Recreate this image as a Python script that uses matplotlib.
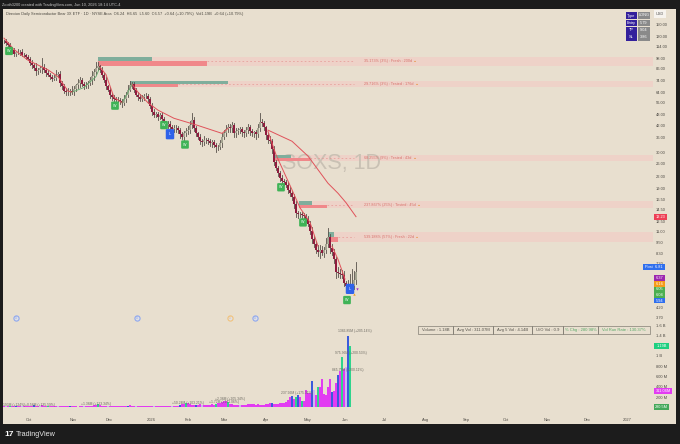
import matplotlib
matplotlib.use("Agg")
import matplotlib.pyplot as plt
from matplotlib.patches import Rectangle

plt.rcParams['font.family'] = ['Liberation Sans', 'DejaVu Sans']

# daily closes, one per bar
closes = [122, 119, 116, 111, 109, 104, 106, 106, 107, 103, 102, 100, 98, 93, 90, 87, 84, 85, 87, 88,
          85, 82, 80, 78, 76, 77, 80, 81, 72, 69, 65, 64, 64, 65, 64, 67, 70, 72, 75, 71,
          69, 70, 72, 75, 79, 83, 87, 89, 85, 80, 75, 69, 66, 62, 60, 59, 58, 58, 57, 56,
          59, 62, 66, 70, 71, 66, 62, 60, 59, 60, 61, 61, 59, 54, 50, 48, 48.5, 47, 48, 45.5,
          43, 42, 43, 41, 40, 40.5, 40.5, 39.6, 37.5, 36.5, 38, 39, 39.6, 42, 45, 40.5, 38, 36.5, 34.5, 34,
          35, 35, 34.5, 33.5, 34, 33, 32, 32, 33.5, 36.5, 38, 40, 41, 40.5, 42, 38, 39, 39.6, 40, 38.5,
          38, 39.6, 41, 39, 38, 38.5, 37.5, 40.5, 44, 43.5, 41, 37, 35, 34.5, 31, 26.5, 24.5, 23, 21.5, 20.8,
          20.4, 19.8, 18.6, 17.8, 17, 15.6, 13.8, 13.6, 13.6, 13.5, 13.3, 12.8, 12.1, 11, 10, 9.4, 8.7, 8.5, 8.7, 8.4,
          8.7, 9.3, 10.2, 8.9, 8.5, 7.7, 6.6, 6.45, 6.4, 6.3, 5.7, 5.5, 5.4, 5.6, 5.5, 5.93, 6.57]
# wick lengths in percent of the candle body ends
wick_up = [2, 3, 2, 3, 2, 3, 2, 4, 2, 3, 2, 2, 3, 2, 3, 3, 6, 2, 3, 12, 4, 2, 3, 2, 2, 3, 6, 2, 3, 2,
           3, 4, 5, 3, 6, 4, 2, 5, 3, 2, 3, 4, 3, 4, 6, 4, 8, 6, 2, 3, 2, 3, 2, 3, 2, 3, 2, 4, 2, 3,
           5, 3, 6, 5, 3, 2, 2, 3, 4, 3, 3, 4, 3, 2, 3, 4, 3, 3, 2, 4, 3, 2, 4, 4, 3, 4, 5, 3, 3, 3,
           3, 4, 5, 6, 10, 4, 3, 2, 3, 3, 5, 3, 3, 3, 3, 3, 2, 3, 4, 5, 4, 6, 5, 4, 4, 3, 4, 3, 3, 3,
           3, 4, 5, 3, 3, 2, 3, 6, 12, 3, 2, 2, 3, 5, 3, 4, 3, 3, 3, 4, 3, 3, 4, 3, 3, 4, 3, 3, 3, 3,
           3, 3, 4, 4, 5, 4, 3, 6, 6, 5, 4, 8, 12, 4, 5, 3, 3, 6, 6, 5, 5, 3, 8, 14, 22, 12, 14]
wick_dn = [2, 2, 3, 2, 3, 2, 3, 2, 3, 2, 2, 3, 2, 3, 3, 3, 5, 4, 3, 6, 3, 4, 2, 3, 3, 2, 3, 3, 4, 3,
           3, 3, 4, 3, 2, 4, 3, 3, 5, 3, 3, 2, 4, 3, 5, 6, 3, 2, 3, 3, 3, 3, 2, 4, 3, 3, 3, 3, 3, 5,
           3, 4, 3, 2, 3, 3, 2, 3, 3, 3, 3, 3, 5, 3, 4, 3, 3, 4, 3, 3, 4, 3, 3, 3, 4, 3, 4, 3, 4, 3,
           4, 3, 3, 4, 3, 3, 3, 3, 4, 5, 3, 4, 4, 3, 4, 3, 6, 4, 3, 4, 3, 3, 3, 4, 4, 4, 5, 3, 4, 4,
           4, 3, 3, 5, 3, 5, 6, 3, 3, 4, 3, 4, 4, 3, 4, 4, 3, 4, 3, 4, 3, 3, 4, 3, 4, 5, 4, 4, 3, 4,
           3, 4, 3, 3, 5, 4, 4, 5, 8, 3, 5, 4, 3, 6, 4, 4, 8, 5, 5, 4, 4, 5, 4, 5, 6, 4, 5]
# volume in millions, one per bar
volumes = [24, 30, 22, 20, 26, 32, 22, 20, 25, 30, 22, 28, 24, 34, 36, 40, 32, 28, 36, 42,
           30, 26, 24, 20, 22, 28, 24, 20, 26, 32, 28, 22, 24, 20, 26, 22, 20, 18, 24, 28,
           24, 20, 22, 30, 38, 44, 50, 60, 46, 36, 30, 26, 24, 22, 28, 34, 30, 26, 24, 22,
           26, 30, 36, 40, 32, 28, 24, 20, 22, 26, 30, 34, 28, 24, 28, 32, 26, 24, 30, 34,
           28, 26, 30, 36, 32, 28, 30, 34, 42, 60, 75, 90, 80, 70, 58, 50, 44, 52, 60, 56,
           48, 44, 50, 58, 66, 56, 70, 85, 95, 110, 135, 125, 100, 70, 60, 52, 46, 50, 56, 52,
           48, 56, 64, 70, 66, 60, 58, 62, 40, 45, 50, 60, 72, 78, 78, 74, 70, 72, 78, 82,
           90, 110, 140, 195, 228, 170, 195, 240, 195, 130, 130, 338, 286, 290, 520, 338, 240, 400, 400, 546,
           260, 240, 400, 546, 305, 320, 481, 630, 700, 990, 740, 793, 1387, 1190]
blue_bars = [6, 15, 33, 62, 88, 96, 134, 144, 147, 154, 164, 167, 172]
green_bars = [3, 22, 47, 91, 106, 112, 146, 149, 157, 169, 173]
lilac_bars = [1, 9, 18, 27, 40, 52, 66, 75, 84, 99, 118, 155, 171]

# indicator lines: bar number, price
fast_a = ([0, 5, 12, 22, 27, 32, 34], [127, 110, 96, 85, 78, 65, 64])
fast_b = ([48, 51, 55, 59], [88, 80, 60, 56])
fast_c = ([64, 67, 72, 77, 85, 97, 109, 112], [71, 64, 56, 51, 46, 42, 38, 40.5])
slow_d = ([132, 144, 152, 162, 167, 171, 176], [39.6, 34.4, 28.5, 20.2, 17.8, 15.8, 13.23])
fast_e = ([132, 136, 144, 148, 153, 157], [39, 29, 18.6, 14.8, 12.3, 9.1])
fast_f = ([164, 167, 170.5], [9.1, 7.7, 6.0])
green_a = ([34, 40, 46, 48], [64, 68, 78, 88])
green_b = ([59, 62, 64], [56, 64, 71])

# supply zones
zone_start = [47, 63, 134.5, 147.5, 162]
zone_green_end = [74, 112, 143.5, 154, 165]
zone_red_end = [101.5, 87, 153, 161.5, 167]
zone_top = [100, 73.7, 28.9, 16.2, 10.9]
zone_mid = [95, 71, 27.8, 15.4, 10.2]
zone_bottom = [89.3, 68.3, 26.8, 14.8, 9.6]
zone_labels = ['35.173% (3%) : Fresh : 200d', '29.716% (3%) : Tested : 176d', '68.255% (9%) : Tested : 43d',
               '237.867% (25%) : Tested : 45d', '539.188% (57%) : Fresh : 22d']

wave_bars = [2.5, 55.5, 80, 90.5, 138.5, 149.5, 171.5]
wave_prices = [108, 54, 42.2, 33, 19.2, 12.3, 4.6]
long_bars = [83, 173]
long_prices = [37.6, 5.3]

price_ticks = [150, 130, 114, 98, 86, 74, 64, 56, 48, 42, 36, 30, 26, 22, 19, 16.5, 14.5, 12.5, 11, 9.5, 8.3, 7.3, 6.87, 4.2, 3.7]
volume_ticks = [200, 400, 600, 800, 1000, 1400, 1600]
volume_tick_labels = ['200 M', '400 M', '600 M', '800 M', '1 B', '1.4 B', '1.6 B']
month_ticks = [12.5, 34.5, 52.5, 73.5, 92, 110, 131, 151.5, 170.5, 190, 211, 231, 251, 271.5, 291.5, 311.5]
month_labels = ['Oct', 'Nov', 'Dec', '2026', 'Feb', 'Mar', 'Apr', 'May', 'Jun', 'Jul', 'Aug', 'Sep', 'Oct', 'Nov', 'Dec', '2027']

vol_notes = [(175.5, 1485, '1386.85M (+205.14%)'), (173.5, 1058, '975.36M (+200.53%)'), (172, 728, '865.75M (+200.11%)'),
             (146.5, 282, '237.96M (+175.31%)'), (5, 50, '193M (+124%)'), (18, 56, '+0.58M (+135.59%)'),
             (46, 68, '+1.38M (+123.34%)'), (92, 90, '+50.24M (+103.21%)'), (113, 165, '+2.38M (+205.34%)'),
             (110, 108, '+1.72M (+141.06%)')]
event_bars = [6, 66.5, 113, 125.5]
event_colors = ['#8fa8ee', '#8fa8ee', '#f2c27a', '#8fa8ee']
stats = ['Volume : 1.18B', 'Avg Vol : 311.07M', 'Avg 5 Vol : 4.14B', 'U/O Vol : 0.9', '% Chg : 280.98%', 'Vol Run Rate : 130.37%']
stat_edges = [418, 453, 493, 532, 563, 598, 650]
setup_rows = [('Type', 'LONG'), ('Entry', '5.79'), ('TP', '9.04'), ('SL', '3.86')]

W, H = 680, 444
BG = '#e8dfcf'
TXT = '#4e4b45'
fig = plt.figure(figsize=(6.8, 4.44), dpi=100, facecolor='#1c1c1c')
fig.add_artist(Rectangle((3 / W, 1 - 424 / H), 673 / W, 415 / H, transform=fig.transFigure, fc=BG, ec='none', zorder=-5))


def px_text(x, y, s, **kw):
    kw.setdefault('fontsize', 2.8)
    kw.setdefault('va', 'center')
    return fig.text(x / W, 1 - y / H, s, **kw)


def tag(x0, x1, y, s, color, h=5.4, tc='white'):
    fig.add_artist(Rectangle((x0 / W, 1 - (y + h / 2) / H), (x1 - x0) / W, h / H, transform=fig.transFigure, fc=color, ec='none', zorder=6))
    px_text((x0 + x1) / 2, y, s, color=tc, ha='center', zorder=7)


ax = fig.add_axes([3 / W, 1 - 413 / H, 650 / W, 404 / H], facecolor='none')
ax.set_yscale('log')
ax.set_xlim(-0.5, 324.5)
ax.set_ylim(1.10, 183.7)
for s in ax.spines.values():
    s.set_visible(False)

# zones
for i in range(len(zone_top)):
    ax.fill_between([zone_start[i], 324.5], zone_bottom[i], zone_top[i], color='#eed2c8', lw=0, zorder=1)
    ax.fill_between([zone_start[i], zone_green_end[i]], zone_mid[i], zone_top[i], color='#7fae9c', lw=0, zorder=2)
    ax.fill_between([zone_start[i], zone_red_end[i]], zone_bottom[i], zone_mid[i], color='#f0888a', lw=0, zorder=2)
    ax.plot([zone_red_end[i], 175], [zone_mid[i], zone_mid[i]], color='#e58a88', lw=0.4, ls=(0, (3, 4)), zorder=2)
    ax.text(180, zone_mid[i], zone_labels[i], fontsize=2.7, color='#d9706c', va='center', zorder=3)
    ax.text(180 + len(zone_labels[i]) * 0.92, zone_mid[i], '●', fontsize=2.4, color='#e8892b', va='center', zorder=3)

ax.text(163.5, 26.0, 'SOXS, 1D', fontsize=15.5, color='#c9c1b4', ha='center', va='center', zorder=1.5)

# candles
opens = [closes[0]] + closes[:-1]
for i, (o, c) in enumerate(zip(opens, closes)):
    top = max(o, c)
    low = min(o, c)
    ax.plot([i, i], [low * (1 - wick_dn[i] / 100), top * (1 + wick_up[i] / 100)], color='#57504a', lw=0.6, zorder=4)
    ax.bar(i, top - low, bottom=low, width=0.95, color='#a5a491' if c >= o else '#8f1c3e', lw=0, zorder=5)

for xs, ys in [fast_a, fast_b, fast_c, slow_d, fast_e, fast_f]:
    ax.plot(xs, ys, color='#e0525a', lw=0.7, zorder=6)
for xs, ys in [green_a, green_b]:
    ax.plot(xs, ys, color='#62a86c', lw=0.6, zorder=6)

for b, p in zip(wave_bars, wave_prices):
    ax.text(b, p, 'W', fontsize=2.6, color='white', ha='center', va='center', zorder=8,
            bbox=dict(boxstyle='round,pad=0.6,rounding_size=0.3', fc='#3fb356', ec='none'))
for b, p in zip(long_bars, long_prices):
    ax.text(b, p, 'L', fontsize=2.8, color='white', ha='center', va='center', zorder=8,
            bbox=dict(boxstyle='round,pad=0.8,rounding_size=0.3', fc='#2f62ea', ec='none'))
ax.scatter([176.5], [5.3], s=3, marker='v', color='#a52ad0', lw=0, zorder=9)
ax.scatter([175], [4.95], s=3, marker='^', color='#f0a020', lw=0, zorder=9)

# event circles sit at a fixed height near the bottom
for b, col in zip(event_bars, event_colors):
    ax.scatter([b], [3.67], s=14, facecolor='#dfe0e6', edgecolor=col, lw=0.8, zorder=3)
    ax.text(b, 3.67, 'D', fontsize=2.2, color=col, ha='center', va='center', zorder=4)

# volume pane on its own linear scale
vx = ax.twinx()
vx.set_ylim(-107, 7738)
vx.set_yticks(volume_ticks)
vx.set_yticklabels(volume_tick_labels)
vx.tick_params(axis='y', length=0, labelsize=2.9, labelcolor=TXT, pad=2.2)
vx.patch.set_visible(False)
for s in vx.spines.values():
    s.set_visible(False)

# twinx moves the price ticks to the left, so set them up afterwards
ax.yaxis.tick_right()
ax.set_yticks(price_ticks)
ax.set_yticklabels([f'{t:.2f}' for t in price_ticks])
ax.minorticks_off()
ax.set_xticks(month_ticks)
ax.set_xticklabels(month_labels)
ax.tick_params(axis='both', length=0, labelsize=2.9, labelcolor=TXT)
ax.tick_params(axis='y', pad=2.2)
ax.tick_params(axis='x', pad=3.5)

bar_colors = []
for i in range(len(volumes)):
    if i in blue_bars:
        bar_colors.append('#3b5bdb')
    elif i in green_bars:
        bar_colors.append('#2fd48c')
    elif i in lilac_bars:
        bar_colors.append('#c8b8f0')
    else:
        bar_colors.append('#e23cf2')
vx.bar(range(len(volumes)), volumes, width=0.9, color=bar_colors, lw=0, zorder=3)
for b, v, s in vol_notes:
    vx.text(b, v, s, fontsize=2.4, color='#6d6a62', ha='center', va='center', zorder=4)

# stats strip under the chart
for i, s in enumerate(stats):
    x0, x1 = stat_edges[i], stat_edges[i + 1]
    fig.add_artist(Rectangle((x0 / W, 1 - 334 / H), (x1 - x0) / W, 8 / H, transform=fig.transFigure, fc='none', ec='#77736a', lw=0.45, zorder=6))
    px_text((x0 + x1) / 2, 330, s, color='#55a865' if i >= 4 else '#55524b', ha='center', fontsize=3.0, zorder=7)

# trade box top right
row_top = [12, 20, 27, 34]
row_h = [7, 6.5, 6.5, 7]
for (a, b), y, h in zip(setup_rows, row_top, row_h):
    tag(626, 637, y + h / 2, a, '#33209c', h=h)
    tag(638, 649.5, y + h / 2, b, '#8a8a8a', h=h)
tag(654, 666, 14, 'USD', '#f6f3ee', h=8, tc='#555555')

tag(654, 667, 217, '13.23', '#ee3f55')
tag(643, 665, 267, 'Post  6.81', '#2f6fee')
tag(654, 665, 278, '6.37', '#9c27b0')
tag(654, 665, 284, '6.16', '#f59c1a')
tag(654, 665, 289.5, '6.05', '#4caf50')
tag(654, 665, 295, '6.04', '#4caf50')
tag(654, 665, 300.5, '5.94', '#2f6fee')
tag(654, 669, 346, '1.19B', '#1fcf80')
tag(654, 672, 391, '311.06M', '#e23cf2')
tag(654, 669, 407, '280.5M', '#45a85a')

px_text(2, 5, 'Zooth3200 created with TradingView.com, Jun 10, 2026 18:14 UTC-4', color='#c6c6c6', fontsize=2.75)
px_text(6, 13.5, 'Direxion Daily Semiconductor Bear 3X ETF · 1D · NYSE Arca  O6.24  H6.65  L5.60  C6.57  +0.64 (+10.79%)  Vol1.19B  +0.64 (+10.79%)',
        color='#4a473f', fontsize=2.75)
px_text(4, 434, '17', color='white', fontsize=6, fontweight='bold')
px_text(16, 434, 'TradingView', color='#e6e6e6', fontsize=5.2)

fig.savefig('out.png', dpi=100, facecolor=fig.get_facecolor())
